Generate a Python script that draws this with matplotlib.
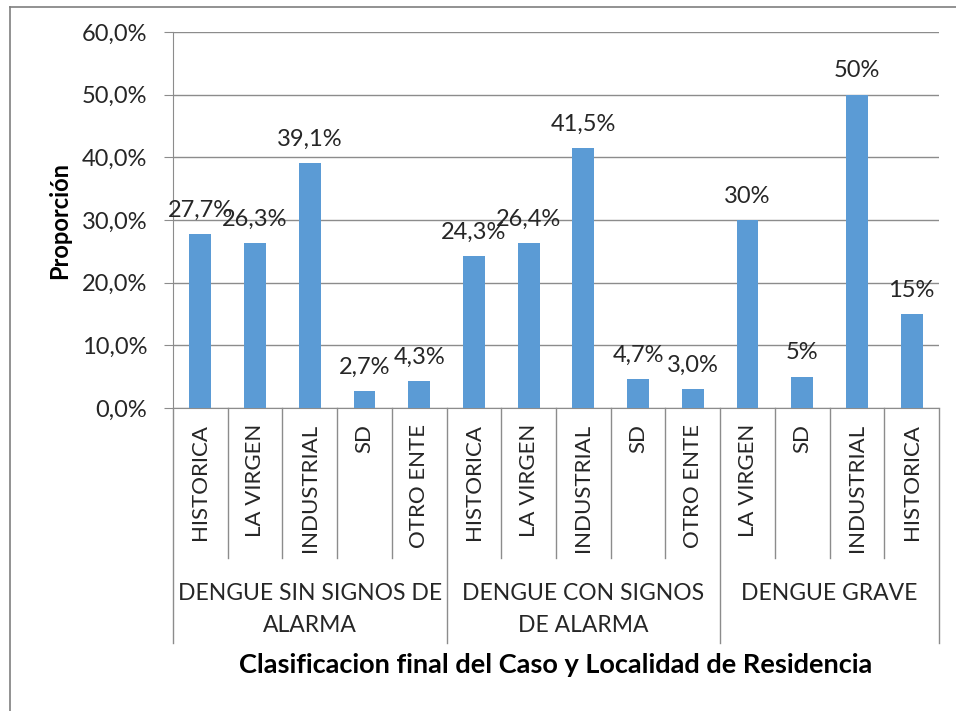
import matplotlib
matplotlib.use("Agg")
import matplotlib.pyplot as plt
from matplotlib.lines import Line2D

plt.rcParams['font.family'] = ['Lato', 'DejaVu Sans']

groups = ["DENGUE SIN SIGNOS DE\nALARMA", "DENGUE CON SIGNOS\nDE ALARMA", "DENGUE GRAVE"]
group_sizes = [5, 5, 4]
categories = ["HISTORICA", "LA VIRGEN", "INDUSTRIAL", "SD", "OTRO ENTE",
              "HISTORICA", "LA VIRGEN", "INDUSTRIAL", "SD", "OTRO ENTE",
              "LA VIRGEN", "SD", "INDUSTRIAL", "HISTORICA"]
values = [27.7, 26.3, 39.1, 2.7, 4.3, 24.3, 26.4, 41.5, 4.7, 3.0, 30, 5, 50, 15]
value_labels = ["27,7%", "26,3%", "39,1%", "2,7%", "4,3%", "24,3%", "26,4%", "41,5%",
                "4,7%", "3,0%", "30%", "5%", "50%", "15%"]
yticks = [0, 10, 20, 30, 40, 50, 60]
ytick_labels = ["0,0%", "10,0%", "20,0%", "30,0%", "40,0%", "50,0%", "60,0%"]

W, H = 956, 711
fig = plt.figure(figsize=(W / 100, H / 100), dpi=100)
fig.patch.set_facecolor("white")

x0, x1, ytop, ybot = 173, 939, 32, 408
ax = fig.add_axes([x0 / W, (H - ybot) / H, (x1 - x0) / W, (ybot - ytop) / H])
axh = ybot - ytop

text_color = "#262626"
grid_color = "#8c8c8c"

xs = list(range(len(values)))
ax.bar(xs, values, width=0.4, color="#5B9BD5", zorder=3)
for x, v, lab in zip(xs, values, value_labels):
    ax.annotate(lab, (x, v), xytext=(0, 9.5), textcoords="offset points",
                ha="center", va="bottom", fontsize=17, color=text_color)

ax.set_xlim(-0.5, len(values) - 0.5)
ax.set_ylim(0, 60)
ax.set_yticks(yticks)
ax.set_yticklabels(ytick_labels, fontsize=17, color=text_color)
ax.yaxis.grid(True, color=grid_color, linewidth=1)
ax.set_axisbelow(True)
ax.tick_params(axis="y", length=6.5, color=grid_color, pad=12)
ax.set_xticks([])
for s in ["top", "right"]:
    ax.spines[s].set_visible(False)
ax.spines["left"].set_color(grid_color)
ax.spines["bottom"].set_color(grid_color)

trans = ax.get_xaxis_transform()
# category labels
for x, c in zip(xs, categories):
    ax.text(x, -(424 - ybot) / axh, c, rotation=90, ha="center", va="top",
            fontsize=16, color=text_color, transform=trans)

# separators
short_bottom = -(558 - ybot) / axh
long_bottom = -(643 - ybot) / axh
bounds = [0]
for g in group_sizes:
    bounds.append(bounds[-1] + g)
for i in range(len(values) + 1):
    xb = i - 0.5
    yb = long_bottom if i in bounds else short_bottom
    ax.add_line(Line2D([xb, xb], [0, yb], transform=trans, color=grid_color,
                       linewidth=1, clip_on=False))

# group labels
line_y = [593, 625]
for gi, g in enumerate(groups):
    cx = (bounds[gi] + bounds[gi + 1]) / 2 - 0.5
    for li, line in enumerate(g.split("\n")):
        ax.text(cx, -(line_y[li] - ybot) / axh, line, ha="center", va="center",
                fontsize=16.5, color=text_color, transform=trans)

fig.text((x0 + x1) / 2 / W, 1 - 665 / H,
         "Clasificacion final del Caso y Localidad de Residencia",
         ha="center", va="center", fontsize=19.5, fontweight="bold", color="black")
fig.text(60 / W, 1 - 220 / H, "Proporción", rotation=90, ha="center", va="center",
         fontsize=17, fontweight="bold", color="black")

# frame lines
fig.add_artist(Line2D([10 / W, 10 / W], [0, 1 - 7 / H], transform=fig.transFigure,
                      color="#7f7f7f", linewidth=1.2))
fig.add_artist(Line2D([10 / W, 1], [1 - 7 / H, 1 - 7 / H], transform=fig.transFigure,
                      color="#7f7f7f", linewidth=1.2))

fig.savefig("out.png", dpi=100)
